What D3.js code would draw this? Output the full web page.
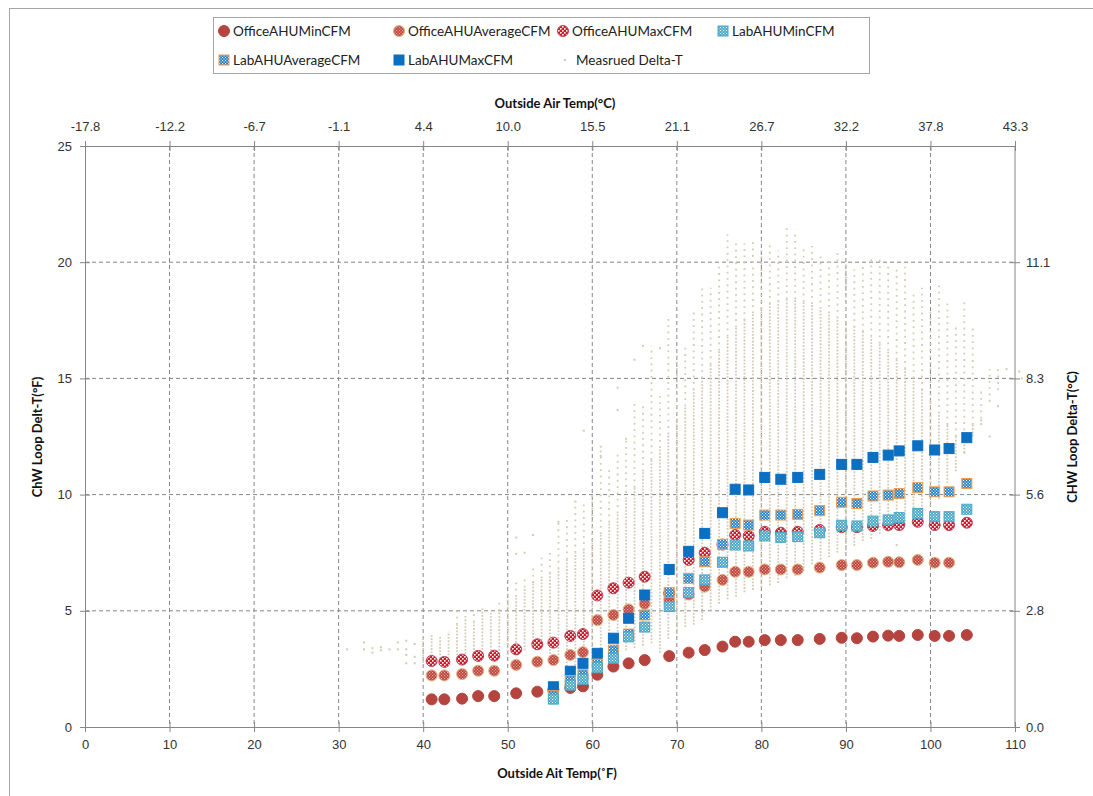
<!DOCTYPE html>
<html lang="en">
<head>
    <meta charset="UTF-8">
    <title>ChW Loop Delta-T vs Outside Air Temp</title>
    <script src="https://cdn.jsdelivr.net/npm/d3@7"></script>
    <style>
        body { margin: 0; background: #fff; }
        svg { display: block; font-family: Lato, "Liberation Sans", sans-serif; }
        .tick text { font-size: 13px; fill: #333; }
        .axis-title { font-size: 13px; font-weight: bold; fill: #111; }
        .legend text { font-size: 13.5px; fill: #222; }
    </style>
</head>
<body>
<svg id="chart" width="1093" height="796"></svg>
<script>
    // outside air temp (F) of the modelled AHU points
    const oat = [41, 42.5, 44.6, 46.5, 48.4, 51, 53.5, 55.4, 57.4, 58.9, 60.6, 62.5, 64.3, 66.2, 69.1,
        71.4, 73.3, 75.4, 76.9, 78.5, 80.4, 82.3, 84.3, 86.9, 89.5, 91.3, 93.2, 95.0, 96.3, 98.5,
        100.5, 102.2, 104.3];
    const officeMin = [1.19, 1.19, 1.22, 1.33, 1.33, 1.45, 1.52, 1.60, 1.68, 1.75, 2.25, 2.60, 2.74, 2.88, 3.05,
        3.20, 3.31, 3.46, 3.67, 3.67, 3.74, 3.74, 3.74, 3.79, 3.84, 3.82, 3.89, 3.93, 3.92, 3.96,
        3.92, 3.92, 3.96];
    const officeAvg = [2.22, 2.22, 2.28, 2.42, 2.42, 2.67, 2.81, 2.88, 3.10, 3.22, 4.60, 4.82, 5.06, 5.30, 5.49,
        5.70, 6.04, 6.33, 6.68, 6.68, 6.78, 6.78, 6.78, 6.86, 6.97, 6.97, 7.07, 7.11, 7.09, 7.19,
        7.07, 7.07, null];
    const officeMax = [2.84, 2.80, 2.90, 3.06, 3.07, 3.34, 3.56, 3.63, 3.92, 4.00, 5.66, 5.97, 6.21, 6.47, 5.75,
        7.19, 7.50, 7.85, 8.26, 8.22, 8.40, 8.36, 8.40, 8.48, 8.60, 8.60, 8.65, 8.69, 8.69, 8.83,
        8.69, 8.69, 8.79];
    const labMin = [null, null, null, null, null, null, null, 1.20, 1.80, 2.05, 2.55, 2.96, 3.88, 4.30, 5.18,
        5.78, 6.33, 7.09, 7.83, 7.79, 8.22, 8.16, 8.19, 8.36, 8.68, 8.65, 8.86, 8.91, 9.01, 9.19,
        9.05, 9.05, 9.37];
    const labAvg = [null, null, null, null, null, null, null, 1.35, 2.00, 2.25, 2.70, 3.31, 4.00, 4.82, 5.78,
        6.40, 7.11, 7.86, 8.76, 8.69, 9.12, 9.12, 9.15, 9.31, 9.67, 9.62, 9.94, 9.98, 10.05, 10.30,
        10.12, 10.12, 10.48];
    const labMax = [null, null, null, null, null, null, null, 1.73, 2.40, 2.74, 3.17, 3.82, 4.68, 5.68, 6.78,
        7.56, 8.33, 9.22, 10.23, 10.20, 10.74, 10.66, 10.74, 10.87, 11.30, 11.30, 11.60, 11.70, 11.88, 12.10,
        11.92, 11.98, 12.45];

    // measured delta-T: readings stack in columns at each whole degree F
    const mTemp = [40, 41, 42, 43, 44, 45, 46, 47, 48, 49, 50, 51, 52, 53, 54, 55, 56, 57, 58, 59,
        60, 61, 62, 63, 64, 65, 66, 67, 68, 69, 70, 71, 72, 73, 74, 75, 76, 77, 78, 79,
        80, 81, 82, 83, 84, 85, 86, 87, 88, 89, 90, 91, 92, 93, 94, 95, 96, 97, 98, 99,
        100, 101, 102, 103, 104, 105, 106, 107, 108];
    const mLow = [2.75, 2.75, 2.8, 2.8, 2.8, 2.85, 2.9, 2.9, 3.0, 3.0, 3.1, 3.2, 3.3, 3.4, 3.3, 3.0, 2.8, 2.6, 2.5, 2.5,
        2.6, 2.8, 3.0, 3.1, 3.3, 3.4, 3.5, 3.6, 3.2, 3.8, 4.0, 4.3, 4.4, 4.6, 5.0, 5.3, 5.5, 5.6, 5.8, 5.9,
        6.0, 6.1, 6.2, 6.4, 6.5, 6.7, 7.0, 7.2, 7.3, 7.5, 7.6, 7.8, 8.0, 8.1, 8.3, 8.4, 8.5, 8.7, 9.0, 9.2,
        9.5, 9.8, 10.5, 11.0, 11.8, 12.5, 13.0, 14.0, 14.5];
    const mDense = [3.9, 4.0, 3.9, 4.1, 4.4, 4.8, 4.5, 5.1, 4.9, 5.0, 5.4, 5.6, 6.0, 6.2, 6.4, 6.6, 6.8, 7.2, 7.5, 7.6,
        8.0, 8.3, 8.8, 9.2, 9.8, 10.3, 11.0, 11.5, 12.0, 12.6, 13.2, 13.8, 14.5, 15.0, 15.6, 16.2, 16.8, 17.2, 17.5, 17.8,
        18.0, 18.2, 18.3, 18.4, 18.4, 18.3, 18.2, 18.0, 17.8, 17.6, 17.4, 17.2, 17.0, 16.8, 16.5, 16.2, 15.8, 15.4, 15.0, 14.5,
        14.0, 13.5, 13.0, 12.5, 12.5, 13.0, 13.0, 14.0, 14.5];
    const mHigh = [3.9, 4.0, 3.9, 4.1, 5.0, 4.8, 5.0, 5.1, 4.9, 5.5, 5.8, 6.4, 6.4, 7.0, 7.4, 7.6, 8.8, 9.0, 9.7, 9.6,
        10.2, 12.0, 11.1, 11.9, 12.4, 13.9, 14.0, 16.4, 14.4, 17.6, 16.0, 16.4, 17.9, 18.9, 18.9, 19.8, 21.2, 21.0, 20.8, 20.9,
        20.7, 20.9, 20.5, 21.5, 21.4, 20.7, 20.7, 20.3, 20.2, 20.4, 19.9, 19.7, 19.9, 20.2, 20.3, 19.9, 19.8, 19.8, 18.7, 18.9,
        18.0, 19.1, 18.4, 17.3, 18.4, 17.3, 14.6, 15.4, 15.4];
    // single readings outside the columns
    const oddTemp = [31, 33, 33, 34, 34, 35, 35, 36, 37, 37, 38, 38, 38, 38, 39, 39, 39,
        51, 51, 52, 53, 56, 58, 59, 61, 61, 63, 63, 64, 65, 66, 68, 96, 104, 106, 107, 108, 109, 110.5, 110.8];
    const oddDelta = [3.34, 3.64, 3.34, 3.39, 3.2, 3.43, 3.3, 3.34, 3.64, 3.34, 3.71, 3.34, 3.1, 2.74, 3.57, 3.02, 2.74,
        8.15, 7.45, 7.5, 8.26, 8.83, 9.7, 12.75, 12.06, 11.66, 13.64, 14.6, 12.4, 15.8, 16.4, 16.3, 7.83, 11.8, 13.2, 12.5, 13.8, 15.4, 15.3, 15.0];

    const xTicksF = [0, 10, 20, 30, 40, 50, 60, 70, 80, 90, 100, 110];
    const topTickLabels = ["-17.8", "-12.2", "-6.7", "-1.1", "4.4", "10.0", "15.5", "21.1", "26.7", "32.2", "37.8", "43.3"];
    const yTicksF = [0, 5, 10, 15, 20, 25];
    const rightTicks = [0, 5, 10, 15, 20];
    const rightTickLabels = ["0.0", "2.8", "5.6", "8.3", "11.1"];

    const svg = d3.select("#chart");
    const x = d3.scaleLinear().domain([0, 110]).range([85, 1015]);
    const y = d3.scaleLinear().domain([0, 25]).range([727, 146]);
    const axisColor = "#868686";
    const dotColor = "#d3ccb3";

    // outer frame
    svg.append("rect").attr("x", 9.5).attr("y", 8.5).attr("width", 1100).attr("height", 800)
        .attr("fill", "#fff").attr("stroke", "#a6a6a6");

    // patterns for the filled markers
    const defs = svg.append("defs");
    function dotPattern(id, bg, fg, period, dot) {
        const p = defs.append("pattern").attr("id", id).attr("patternUnits", "userSpaceOnUse")
            .attr("width", period).attr("height", period);
        p.append("rect").attr("width", period).attr("height", period).attr("fill", bg);
        p.append("rect").attr("width", dot).attr("height", dot).attr("fill", fg);
        p.append("rect").attr("x", period / 2).attr("y", period / 2).attr("width", dot).attr("height", dot).attr("fill", fg);
    }
    dotPattern("pOfficeAvg", "#b8403b", "#eaa89c", 3, 1.2);
    dotPattern("pOfficeMax", "#d3182c", "#ffffff", 4, 1.6);
    dotPattern("pLabMin", "#4aa8c8", "#ffffff", 3, 1);
    dotPattern("pLabAvg", "#1f7fc6", "#ffffff", 3, 1.1);

    // gridlines
    const grid = svg.append("g");
    grid.selectAll(".vg").data(xTicksF.filter(v => v > 0 && v < 110)).join("line")
        .attr("x1", d => x(d)).attr("x2", d => x(d)).attr("y1", y(25)).attr("y2", y(0))
        .attr("stroke", axisColor).attr("stroke-dasharray", "4,3");
    grid.selectAll(".hg").data(yTicksF.filter(v => v > 0 && v < 25)).join("line")
        .attr("x1", x(0)).attr("x2", x(110)).attr("y1", d => y(d)).attr("y2", d => y(d))
        .attr("stroke", axisColor).attr("stroke-dasharray", "4,3");

    // measured delta-T columns
    const cols = mTemp.map((t, i) => ({t: t, lo: mLow[i], mid: mDense[i], hi: mHigh[i]}));
    const meas = svg.append("g").attr("stroke", dotColor).attr("stroke-width", 1.8);
    meas.selectAll(".dense").data(cols).join("line")
        .attr("x1", d => x(d.t)).attr("x2", d => x(d.t))
        .attr("y1", d => y(d.lo)).attr("y2", d => y(d.mid))
        .attr("stroke-dasharray", "1.8,1.5");
    meas.selectAll(".sparse").data(cols.filter(d => d.hi > d.mid)).join("line")
        .attr("x1", d => x(d.t)).attr("x2", d => x(d.t))
        .attr("y1", d => y(d.mid)).attr("y2", d => y(d.hi))
        .attr("stroke-dasharray", "1.8,4.5");
    svg.append("g").selectAll("rect").data(oddTemp.map((t, i) => [t, oddDelta[i]])).join("rect")
        .attr("x", d => x(d[0]) - 1).attr("y", d => y(d[1]) - 1).attr("width", 2).attr("height", 2)
        .attr("fill", dotColor);

    function pts(vals) {
        return oat.map((t, i) => [t, vals[i]]).filter(d => d[1] != null);
    }
    function circles(vals, fill, stroke) {
        svg.append("g").selectAll("circle").data(pts(vals)).join("circle")
            .attr("cx", d => x(d[0])).attr("cy", d => y(d[1])).attr("r", 5.5)
            .attr("fill", fill).attr("stroke", stroke).attr("stroke-width", 1);
    }
    function squares(vals, fill, stroke) {
        svg.append("g").selectAll("rect").data(pts(vals)).join("rect")
            .attr("x", d => x(d[0]) - 5).attr("y", d => y(d[1]) - 5).attr("width", 10).attr("height", 10)
            .attr("fill", fill).attr("stroke", stroke).attr("stroke-width", 1);
    }
    circles(officeMin, "#b5443f", "#b5443f");
    circles(officeAvg, "url(#pOfficeAvg)", "#e3b27a");
    circles(officeMax, "url(#pOfficeMax)", "#b8405a");
    squares(labMax, "#0b6fc2", "#0b6fc2");
    squares(labAvg, "url(#pLabAvg)", "#f39a4a");
    squares(labMin, "url(#pLabMin)", "#4aa8c8");

    // axes
    function styleAxis(g) {
        g.select(".domain").attr("stroke", axisColor);
        g.selectAll(".tick line").attr("stroke", axisColor);
    }
    svg.append("g").attr("transform", "translate(0," + y(0) + ")")
        .call(d3.axisBottom(x).tickValues(xTicksF).tickSize(5).tickSizeOuter(0).tickPadding(8))
        .call(styleAxis)
        .call(g => g.selectAll(".tick line").attr("y1", -5))
        .call(g => g.selectAll(".tick text").attr("font-family", null));
    svg.append("g").attr("transform", "translate(0," + y(25) + ")")
        .call(d3.axisTop(x).tickValues(xTicksF).tickFormat((d, i) => topTickLabels[i])
            .tickSize(5).tickSizeOuter(0).tickPadding(10))
        .call(styleAxis)
        .call(g => g.selectAll(".tick line").attr("y1", 5))
        .call(g => g.selectAll(".tick text").attr("font-family", null));
    svg.append("g").attr("transform", "translate(" + x(0) + ",0)")
        .call(d3.axisLeft(y).tickValues(yTicksF).tickSize(5).tickSizeOuter(0).tickPadding(8))
        .call(styleAxis)
        .call(g => g.selectAll(".tick line").attr("x1", 5))
        .call(g => g.selectAll(".tick text").attr("font-family", null));
    svg.append("g").attr("transform", "translate(" + x(110) + ",0)")
        .call(d3.axisRight(y).tickValues(rightTicks).tickFormat((d, i) => rightTickLabels[i])
            .tickSize(5).tickSizeOuter(0).tickPadding(6))
        .call(styleAxis)
        .call(g => g.select(".domain").attr("d", "M0," + y(0) + "V" + y(25)))
        .call(g => g.selectAll(".tick line").attr("x1", -5))
        .call(g => g.selectAll(".tick text").attr("font-family", null));

    // axis titles
    svg.append("text").attr("class", "axis-title").attr("x", 557).attr("y", 778)
        .attr("text-anchor", "middle").text("Outside Ait Temp(˚F)");
    svg.append("text").attr("class", "axis-title").attr("x", 555).attr("y", 108)
        .attr("text-anchor", "middle").text("Outside Air Temp(°C)");
    svg.append("text").attr("class", "axis-title").attr("text-anchor", "middle")
        .attr("transform", "translate(42,437) rotate(-90)").text("ChW Loop Delt-T(°F)");
    svg.append("text").attr("class", "axis-title").attr("text-anchor", "middle")
        .attr("transform", "translate(1077,437) rotate(-90)").text("CHW Loop Delta-T(°C)");

    // legend
    const legend = svg.append("g").attr("class", "legend");
    legend.append("rect").attr("x", 213.5).attr("y", 17.5).attr("width", 656).attr("height", 56)
        .attr("fill", "#fff").attr("stroke", "#a6a6a6");
    const legendItems = [
        {name: "OfficeAHUMinCFM", kind: "c", fill: "#b5443f", stroke: "#b5443f", lx: 224, ly: 31},
        {name: "OfficeAHUAverageCFM", kind: "c", fill: "url(#pOfficeAvg)", stroke: "#e3b27a", lx: 399, ly: 31},
        {name: "OfficeAHUMaxCFM", kind: "c", fill: "url(#pOfficeMax)", stroke: "#b8405a", lx: 563, ly: 31},
        {name: "LabAHUMinCFM", kind: "s", fill: "url(#pLabMin)", stroke: "#4aa8c8", lx: 723, ly: 31},
        {name: "LabAHUAverageCFM", kind: "s", fill: "url(#pLabAvg)", stroke: "#f39a4a", lx: 224, ly: 60},
        {name: "LabAHUMaxCFM", kind: "s", fill: "#0b6fc2", stroke: "#0b6fc2", lx: 399, ly: 60},
        {name: "Measrued Delta-T", kind: "d", fill: dotColor, stroke: "none", lx: 565, ly: 60}
    ];
    legendItems.forEach(it => {
        if (it.kind === "c") {
            legend.append("circle").attr("cx", it.lx).attr("cy", it.ly).attr("r", 5.5)
                .attr("fill", it.fill).attr("stroke", it.stroke);
        } else if (it.kind === "s") {
            legend.append("rect").attr("x", it.lx - 5).attr("y", it.ly - 5).attr("width", 10).attr("height", 10)
                .attr("fill", it.fill).attr("stroke", it.stroke);
        } else {
            legend.append("rect").attr("x", it.lx - 1).attr("y", it.ly - 1).attr("width", 2).attr("height", 2)
                .attr("fill", it.fill);
        }
        legend.append("text").attr("x", it.lx + (it.kind === "d" ? 11 : 9)).attr("y", it.ly + 5).text(it.name);
    });
</script>
</body>
</html>
